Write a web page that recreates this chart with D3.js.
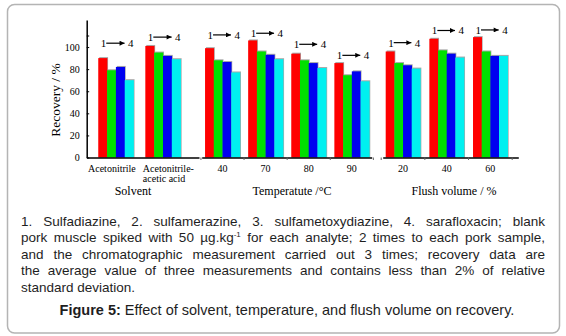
<!DOCTYPE html>
<html>
<head>
<meta charset="utf-8">
<script src="https://cdn.jsdelivr.net/npm/d3@7"></script>
<style>
body { margin: 0; background: #fff; }
#chart { position: relative; width: 566px; height: 336px; overflow: hidden; }
#chart svg { position: absolute; left: 0; top: 0; }
.cap {
    position: absolute; left: 21px; width: 524px; height: 17px;
    font-family: "Liberation Sans", Arial, sans-serif; font-size: 13.5px;
    line-height: 16.5px; color: #1e1e1e;
    text-align: justify; text-align-last: justify;
}
.cap.last { text-align: left; text-align-last: left; }
.cap sup { font-size: 8px; line-height: 0; vertical-align: 5px; }
.fig {
    position: absolute; left: 0; width: 574px; text-align: center;
    font-family: "Liberation Sans", Arial, sans-serif; font-size: 14.5px;
    line-height: 17px; color: #1e1e1e;
}
.axis text { font-family: "Liberation Serif", "Times New Roman", serif; font-size: 10px; fill: #000; }
</style>
</head>
<body>
<div id="chart"></div>
<script>
// 1. sulfadiazine, 2. sulfamerazine, 3. sulfametoxydiazine, 4. sarafloxacin
const analytes = ['1', '2', '3', '4'];
const colors = ['#ff0000', '#00e000', '#0000f0', '#00f0f0'];

const solventCats = ['Acetonitrile', 'Acetonitrile-acetic acid'];
const solventValues = [[90, 79, 82, 70], [101, 95, 92, 89]];
const solventArrow = [103.5, 109];

const tempCats = ['40', '70', '80', '90'];
const tempValues = [[99, 88, 86.5, 77], [106, 96, 93, 89], [94, 88, 85.5, 81], [85.5, 74.5, 78, 69]];
const tempArrow = [111, 112.5, 102.5, 92.5];

const flushCats = ['20', '40', '60'];
const flushValues = [[96, 85.5, 83.5, 80.5], [107.5, 97, 94, 90.5], [109, 96, 92, 92]];
const flushArrow = [104, 115, 115.5];

const yTicks = [0, 20, 40, 60, 80, 100];

const captionLines = [
    '1. Sulfadiazine, 2. sulfamerazine, 3. sulfametoxydiazine, 4. sarafloxacin; blank',
    'pork muscle spiked with 50 µg.kg<sup>-1</sup> for each analyte; 2 times to each pork sample,',
    'and the chromatographic measurement carried out 3 times; recovery data are',
    'the average value of three measurements and contains less than 2% of relative',
    'standard deviation.'
];

const panels = [
    {title: 'Solvent', cats: solventCats, values: solventValues, arrow: solventArrow,
     range: [86.5, 199], pin: 0.25, pout: 0.32, align: 0.39, labelDx: -4, titleX: 133, boundTicks: false},
    {title: 'Temperatute /°C', cats: tempCats, values: tempValues, arrow: tempArrow,
     range: [201.7, 371.7], pin: 0.19, pout: 0.067, align: 0.58, labelDx: 0, titleX: 292, boundTicks: true},
    {title: 'Flush volume / %', cats: flushCats, values: flushValues, arrow: flushArrow,
     range: [382.7, 518.3], pin: 0.206, pout: 0.156, align: 0.22, labelDx: 0, titleX: 454, boundTicks: true},
];

const width = 566;
const height = 336;
const serif = '"Liberation Serif", "Times New Roman", serif';

const y = d3.scaleLinear()
    .domain([0, 124.5])
    .range([157.5, 20]);

const container = d3.select('#chart');

const svg = container.append('svg')
    .attr('width', width)
    .attr('height', height);

svg.append('rect')
    .attr('x', 7.5).attr('y', 4.5)
    .attr('width', 552).attr('height', 328.5)
    .attr('rx', 7)
    .attr('fill', 'none')
    .attr('stroke', '#b4b4b4')
    .attr('stroke-width', 1.5);

const defs = svg.append('defs');
defs.append('marker')
    .attr('id', 'arrowhead')
    .attr('viewBox', '0 0 10 10')
    .attr('refX', 10).attr('refY', 5)
    .attr('markerWidth', 5.5).attr('markerHeight', 5)
    .attr('markerUnits', 'userSpaceOnUse')
    .attr('orient', 'auto')
    .append('path')
    .attr('d', 'M0,0L10,5L0,10Z')
    .attr('fill', '#000');

// y axis
const yAxis = d3.axisLeft(y)
    .tickValues(yTicks)
    .tickSize(0)
    .tickPadding(7)
    .tickSizeOuter(0);

const yg = svg.append('g')
    .attr('class', 'axis axis--y')
    .attr('transform', 'translate(86.7,0)')
    .call(yAxis);
yg.select('.domain').attr('stroke', '#000').attr('stroke-width', 1.5);
yg.selectAll('.tick').append('line')
    .attr('x2', 2.5).attr('stroke', '#000');
yg.append('line')
    .attr('y1', y(110)).attr('y2', y(110))
    .attr('x2', 2.5).attr('stroke', '#000');

svg.append('text')
    .attr('transform', `translate(60,100) rotate(-90)`)
    .attr('text-anchor', 'middle')
    .attr('font-family', serif)
    .attr('font-size', 13.5)
    .text('Recovery / %');

const inner = d3.scaleBand().domain(analytes);

panels.forEach((p) => {
    const x = d3.scaleBand()
        .domain(p.cats)
        .range(p.range)
        .paddingInner(p.pin)
        .paddingOuter(p.pout)
        .align(p.align);
    inner.range([0, x.bandwidth()]);
    const bw = x.bandwidth();

    const g = svg.append('g').attr('class', 'panel');

    const group = g.selectAll('.group')
        .data(p.cats.map((c, i) => ({cat: c, values: p.values[i], arrow: p.arrow[i]})))
        .enter().append('g')
        .attr('class', 'group')
        .attr('transform', d => `translate(${x(d.cat)},0)`);

    const bars = group.selectAll('.bar')
        .data(d => d.values.map((v, k) => ({key: analytes[k], value: v, color: colors[k]})))
        .enter();

    bars.append('rect')
        .attr('x', d => inner(d.key) + 1)
        .attr('y', d => y(d.value) - 1)
        .attr('width', inner.bandwidth())
        .attr('height', d => y(0) - y(d.value) + 1)
        .attr('fill', '#a8a8a8');

    bars.append('rect')
        .attr('x', d => inner(d.key))
        .attr('y', d => y(d.value))
        .attr('width', inner.bandwidth() + 0.3)
        .attr('height', d => y(0) - y(d.value))
        .attr('fill', d => d.color);

    // "1 -> 4" annotation
    group.append('text')
        .attr('x', 2.5)
        .attr('y', d => y(d.arrow))
        .attr('dy', '0.36em')
        .attr('font-family', serif)
        .attr('font-size', 11)
        .text(analytes[0]);
    group.append('line')
        .attr('x1', 8)
        .attr('x2', bw - 9)
        .attr('y1', d => y(d.arrow))
        .attr('y2', d => y(d.arrow))
        .attr('stroke', '#000')
        .attr('stroke-width', 1.2)
        .attr('marker-end', 'url(#arrowhead)');
    group.append('text')
        .attr('x', bw)
        .attr('y', d => y(d.arrow))
        .attr('dy', '0.36em')
        .attr('text-anchor', 'end')
        .attr('font-family', serif)
        .attr('font-size', 11)
        .text(analytes[3]);

    // x axis
    const xAxis = d3.axisBottom(x)
        .tickSize(0)
        .tickSizeOuter(0)
        .tickPadding(7);
    const xg = g.append('g')
        .attr('class', 'axis axis--x')
        .attr('transform', `translate(0,${y(0)})`)
        .call(xAxis);
    xg.select('.domain').attr('stroke', '#000').attr('stroke-width', 1.5);
    xg.selectAll('.tick text')
        .attr('dx', p.labelDx)
        .each(function(d) {
            const parts = d.split(/(?<=-)/);
            if (parts.length < 2) return;
            // two-line labels sit left-aligned under their group
            const t = d3.select(this)
                .text(null)
                .attr('dx', null)
                .attr('dy', null)
                .attr('text-anchor', 'start');
            parts.forEach((s, i) => {
                t.append('tspan')
                    .attr('x', -bw / 2 - 2.5)
                    .attr('dy', i === 0 ? '0.71em' : '1.0em')
                    .text(s);
            });
        });

    if (p.boundTicks) {
        const first = x(p.cats[0]) - x.step() * p.pin / 2;
        xg.selectAll('.bound')
            .data(d3.range(p.cats.length + 1))
            .enter().append('line')
            .attr('class', 'bound')
            .attr('x1', k => first + k * x.step())
            .attr('x2', k => first + k * x.step())
            .attr('y2', 2.5)
            .attr('stroke', '#666');
    }

    g.append('text')
        .attr('x', p.titleX)
        .attr('y', 195)
        .attr('text-anchor', 'middle')
        .attr('font-family', serif)
        .attr('font-size', 12)
        .text(p.title);
});

// caption
container.selectAll('.cap')
    .data(captionLines)
    .enter().append('div')
    .attr('class', (d, i) => i === captionLines.length - 1 ? 'cap last' : 'cap')
    .style('top', (d, i) => `${213.8 + i * 16.5}px`)
    .html(d => d);

container.append('div')
    .attr('class', 'fig')
    .style('top', '301.5px')
    .html('<b>Figure 5:</b> Effect of solvent, temperature, and flush volume on recovery.');
</script>
</body>
</html>
